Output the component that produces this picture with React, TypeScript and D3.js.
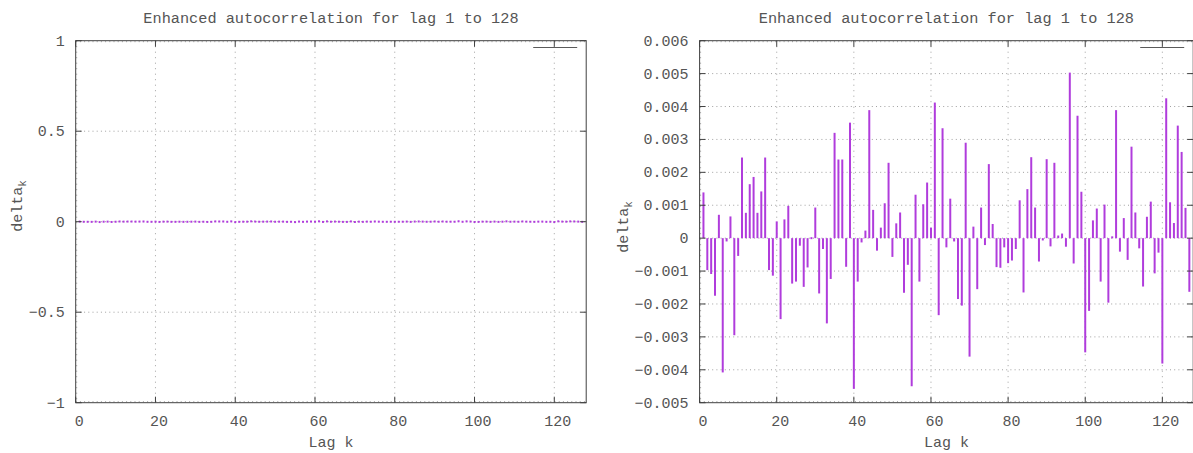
import React from "react";
import * as d3 from "d3";

// Enhanced autocorrelation delta_k for lags 1..127 (values in units of 1e-3)
const lags: number[] = Array.from({ length: 127 }, (_, i) => i + 1);
const deltaMilli: number[] = [
  1.39, -0.97, -1.09, -1.75, 0.71, -4.08, -0.10, 0.66, -2.95, -0.54,
  2.45, 0.77, 1.64, 1.86, 0.77, 1.42, 2.45, -0.97, -1.14, 0.51,
  -2.46, 0.57, 0.98, -1.38, -1.32, -0.23, -1.48, -0.89, 0.0, 0.93,
  -1.68, -0.33, -2.59, -1.24, 3.20, 2.39, 2.39, -0.87, 3.51, -4.58,
  -1.32, -0.13, 0.23, 3.89, 0.86, -0.38, 0.32, 1.06, 2.29, -0.57,
  0.45, 0.78, -1.66, -0.81, -4.50, 1.32, -1.32, 1.03, 1.69, 0.32,
  4.12, -2.34, 3.34, -0.28, 1.20, -0.10, -1.85, -2.05, 2.90, -3.60,
  0.35, -1.55, 0.93, -0.21, 2.25, 0.43, -0.88, -0.90, -0.28, -0.76,
  -0.68, -0.33, 1.15, -1.65, 1.49, 2.46, 0.93, -0.71, -0.07, 2.40,
  -0.25, 2.29, 0.08, 0.14, -0.26, 5.03, -0.77, 3.72, 1.41, -3.47,
  -2.21, 0.54, 0.90, -1.32, 1.02, -1.96, 0.05, 3.89, -0.41, 0.61,
  -0.66, 2.78, 0.78, -0.31, -1.47, 0.65, 1.11, -1.07, -0.44, -3.81,
  4.25, 1.09, 0.46, 3.42, 2.62, 0.92, -1.63,
];
const deltaValues: number[] = deltaMilli.map((v) => v / 1000);

const xTicks: number[] = [0, 20, 40, 60, 80, 100, 120];
const leftYTicks: number[] = [-1, -0.5, 0, 0.5, 1];
const leftYLabels: string[] = ["−1", "−0.5", "0", "0.5", "1"];
const rightYTicks: number[] = [
  -0.005, -0.004, -0.003, -0.002, -0.001, 0, 0.001, 0.002, 0.003, 0.004, 0.005, 0.006,
];
const rightYLabels: string[] = [
  "−0.005", "−0.004", "−0.003", "−0.002", "−0.001", "0",
  "0.001", "0.002", "0.003", "0.004", "0.005", "0.006",
];

const TITLE = "Enhanced autocorrelation for lag 1 to 128";
const FONT = "'Liberation Mono', 'DejaVu Sans Mono', monospace";
const BAR_COLOR = "#b03cdc";
const BORDER = "#404040";
const GRID = "#a0a0a0";
const TEXT = "#555555";

type PanelProps = {
  left: number;
  right: number;
  top: number;
  bottom: number;
  yDomain: [number, number];
  yTicks: number[];
  yLabels: string[];
  labelX: number;
  labelY: number;
};

function Panel({ left, right, top, bottom, yDomain, yTicks, yLabels, labelX, labelY }: PanelProps) {
  const x = d3.scaleLinear().domain([0, 128]).range([left, right]);
  const y = d3.scaleLinear().domain(yDomain).range([bottom, top]);
  const cx = (left + right) / 2;
  const tick = 6;

  return (
    <g>
      {/* grid */}
      {xTicks.map((t) => {
        let px = x(t);
        if (Math.abs(px - left) < 0.5) px = left + 1;
        return (
          <line key={"gx" + t} x1={px} x2={px} y1={top} y2={bottom}
            stroke={GRID} strokeWidth={1} strokeDasharray="1,4.5" />
        );
      })}
      {yTicks.map((t) => {
        let py = y(t);
        if (Math.abs(py - top) < 0.5) py = top + 1;
        if (Math.abs(py - bottom) < 0.5) py = bottom - 1;
        return (
          <line key={"gy" + t} x1={left} x2={right} y1={py} y2={py}
            stroke={GRID} strokeWidth={1} strokeDasharray="1,3.2" />
        );
      })}

      {/* impulses: 2px strokes with square caps so near-zero values still show */}
      {lags.map((k, i) => {
        const v = deltaValues[i];
        const y0 = y(0);
        const y1 = y(v);
        const span = Math.abs(y1 - y0);
        const inset = Math.min(1, span / 2);
        const sgn = y1 < y0 ? -1 : 1;
        return (
          <line key={"b" + k} x1={x(k)} x2={x(k)}
            y1={y0 + sgn * inset} y2={y1 - sgn * inset}
            stroke={BAR_COLOR} strokeWidth={2} strokeLinecap="square" />
        );
      })}

      {/* border */}
      <rect x={left} y={top} width={right - left} height={bottom - top}
        fill="none" stroke={BORDER} strokeWidth={1} />

      {/* x ticks */}
      {xTicks.map((t) => (
        <g key={"tx" + t}>
          <line x1={x(t)} x2={x(t)} y1={bottom} y2={bottom - tick} stroke={BORDER} />
          <line x1={x(t)} x2={x(t)} y1={top} y2={top + tick} stroke={BORDER} />
          <text x={x(t) + 3.5} y={426} textAnchor="middle" fontFamily={FONT}
            fontSize={15} fill={TEXT}>{t}</text>
        </g>
      ))}

      {/* y ticks */}
      {yTicks.map((t, i) => (
        <g key={"ty" + t}>
          <line x1={left} x2={left + tick} y1={y(t)} y2={y(t)} stroke={BORDER} />
          <line x1={right} x2={right - tick} y1={y(t)} y2={y(t)} stroke={BORDER} />
          <text x={left - 11} y={y(t) + 5} textAnchor="end" fontFamily={FONT}
            fontSize={15} fill={TEXT}>{yLabels[i]}</text>
        </g>
      ))}

      {/* key sample */}
      <line x1={right - 53} x2={right - 9} y1={47.5} y2={47.5} stroke="#5a5a5a" strokeWidth={1.2} />

      {/* title and axis labels */}
      <text x={cx} y={22.5} textAnchor="middle" fontFamily={FONT} fontSize={15.25} fill={TEXT}>
        {TITLE}
      </text>
      <text x={cx} y={447} textAnchor="middle" fontFamily={FONT} fontSize={15} fill={TEXT}>
        Lag k
      </text>
      <text transform={`translate(${labelX},${labelY}) rotate(-90)`}
        textAnchor="middle" fontFamily={FONT} fontSize={15} fill={TEXT}>
        delta<tspan dy={4} fontSize={11}>k</tspan>
      </text>
    </g>
  );
}

export default function App() {
  return (
    <svg width={1193} height={453} style={{ position: "fixed", left: 0, top: 0, background: "#fff" }}>
      <rect width={1193} height={453} fill="#ffffff" />
      <Panel left={75.7} right={586.2} top={40.7} bottom={402.7}
        yDomain={[-1, 1]} yTicks={leftYTicks} yLabels={leftYLabels} labelX={21.7} labelY={206} />
      <Panel left={699.6} right={1193.2} top={40.7} bottom={402.7}
        yDomain={[-0.005, 0.006]} yTicks={rightYTicks} yLabels={rightYLabels} labelX={627.6} labelY={227} />
    </svg>
  );
}
